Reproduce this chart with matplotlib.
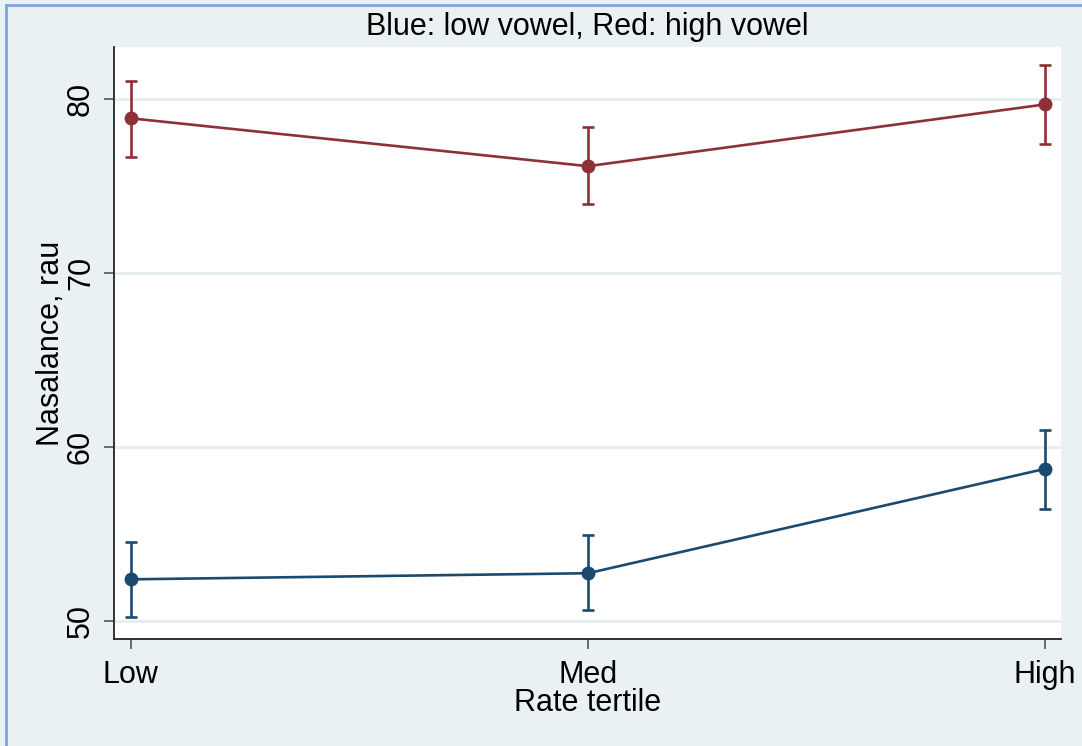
import numpy as np
import matplotlib.pyplot as plt
from matplotlib.lines import Line2D

plt.rcParams["font.family"] = ["Liberation Sans", "DejaVu Sans"]

# Mean nasalance by speaking-rate tertile, with 95% CI bounds
tertiles = ["Low", "Med", "High"]
high_mean = [78.9, 76.15, 79.7]
high_lo = [76.7, 73.97, 77.45]
high_hi = [81.05, 78.4, 81.95]
low_mean = [52.4, 52.75, 58.75]
low_lo = [50.25, 50.62, 56.42]
low_hi = [54.55, 54.92, 60.98]
yticks = [50, 60, 70, 80]

bg = "#eaf1f3"
red = "#8f3039"
navy = "#1b4a6f"

fig = plt.figure(figsize=(10.82, 7.46), dpi=100, facecolor=bg)
ax = fig.add_axes([114 / 1082, 1 - 639 / 746, (1061 - 114) / 1082, (639 - 47) / 746])
ax.set_facecolor("white")

x = np.arange(len(tertiles))
for mean, lo, hi, col in [(high_mean, high_lo, high_hi, red),
                          (low_mean, low_lo, low_hi, navy)]:
    mean = np.array(mean)
    err = [mean - np.array(lo), np.array(hi) - mean]
    ax.errorbar(x, mean, yerr=err, color=col, lw=1.9, elinewidth=1.9,
                capsize=4.5, capthick=1.9, marker="o", markersize=9, zorder=3)

ax.set_xlim(-0.037, 2.035)
ax.set_ylim(48.97, 83.0)
ax.set_xticks(x)
ax.set_xticklabels(tertiles)
ax.set_yticks(yticks)
ax.set_yticklabels([str(v) for v in yticks], rotation=90, va="center")
ax.grid(axis="y", color="#e6eef1", lw=2)
ax.set_axisbelow(True)
ax.tick_params(labelsize=22, length=7, width=1.2, color="#555555", pad=8)
ax.tick_params(axis="y", pad=6)

for side in ["top", "right"]:
    ax.spines[side].set_visible(False)
for side in ["left", "bottom"]:
    ax.spines[side].set_color("#222222")
    ax.spines[side].set_linewidth(1.3)

ax.set_xlabel("Rate tertile", fontsize=22, labelpad=-1)
ax.set_ylabel("Nasalance, rau", fontsize=22, labelpad=0)
ax.set_title("Blue: low vowel, Red: high vowel", fontsize=22, pad=9)

# thin blue frame along the top and left edges
fig.add_artist(Line2D([6 / 1082, 1], [1 - 5 / 746, 1 - 5 / 746],
                      transform=fig.transFigure, color="#7ea6d8", lw=2))
fig.add_artist(Line2D([6 / 1082, 6 / 1082], [0, 1 - 5 / 746],
                      transform=fig.transFigure, color="#7ea6d8", lw=2))

fig.savefig("out.png", dpi=100, facecolor=bg)
